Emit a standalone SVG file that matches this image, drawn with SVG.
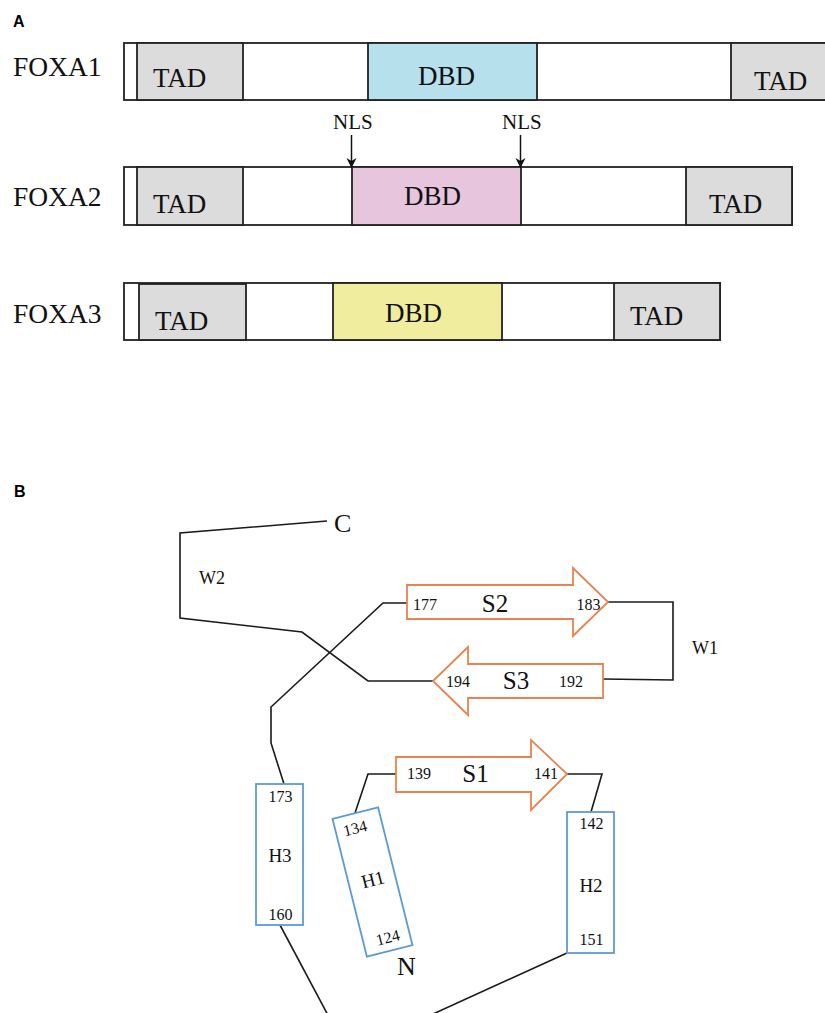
<svg xmlns="http://www.w3.org/2000/svg" width="825" height="1013" viewBox="0 0 825 1013">
  <style>
    .panel { font-family: "Liberation Sans", Arial, sans-serif; font-weight: bold; font-size: 16px; fill: #000; }
    .serif { font-family: "Liberation Serif", "Times New Roman", serif; fill: #111; }
    .name { font-size: 27.5px; }
    .dom { font-size: 27px; }
    .nls { font-size: 21px; }
    .bar { fill: #fff; stroke: #222; stroke-width: 1.8; }
    .tad { fill: #dcdcdc; stroke: #222; stroke-width: 1.8; }
    .dbd1 { fill: #b6e0ec; stroke: #222; stroke-width: 1.8; }
    .dbd2 { fill: #e6c5dd; stroke: #222; stroke-width: 1.8; }
    .dbd3 { fill: #f1ed9f; stroke: #222; stroke-width: 1.8; }
    .strand { fill: #fff; stroke: #e8834e; stroke-width: 1.8; stroke-linejoin: miter; }
    .helix { fill: #fff; stroke: #5b9bd5; stroke-width: 1.8; }
    .wire { fill: none; stroke: #1a1a1a; stroke-width: 1.6; stroke-linejoin: miter; }
    .num { font-size: 16px; text-anchor: middle; }
    .sname { font-size: 25px; text-anchor: middle; }
    .hname { font-size: 19px; text-anchor: middle; }
    .wname { font-size: 18px; }
    .end { font-size: 26px; }
  </style>
  <defs>
    <marker id="tri" viewBox="0 0 10 10" refX="10" refY="5" markerWidth="10" markerHeight="11" markerUnits="userSpaceOnUse" orient="auto">
      <path d="M0,0 L10,5 L0,10 L3,5 Z" fill="#111"/>
    </marker>
  </defs>

  <!-- panel letters -->
  <text class="panel" x="13" y="27">A</text>
  <text class="panel" x="14" y="497">B</text>

  <!-- FOXA1 domain bar -->
  <g id="foxa1">
    <text class="serif name" x="13" y="76">FOXA1</text>
    <rect class="bar" x="124" y="43" width="720" height="57"/>
    <rect class="tad" x="137" y="43" width="106" height="57"/>
    <rect class="dbd1" x="368" y="43" width="169" height="57"/>
    <rect class="tad" x="731" y="43" width="113" height="57"/>
    <text class="serif dom" x="153" y="87">TAD</text>
    <text class="serif dom" x="418" y="85">DBD</text>
    <text class="serif dom" x="754" y="90">TAD</text>
  </g>

  <!-- FOXA2 domain bar -->
  <g id="foxa2">
    <text class="serif name" x="13" y="206">FOXA2</text>
    <rect class="bar" x="124" y="167" width="668" height="58"/>
    <rect class="tad" x="137" y="167" width="106" height="58"/>
    <rect class="dbd2" x="352" y="167" width="169" height="58"/>
    <rect class="tad" x="686" y="167" width="106" height="58"/>
    <text class="serif dom" x="153" y="213">TAD</text>
    <text class="serif dom" x="404" y="205">DBD</text>
    <text class="serif dom" x="709" y="213">TAD</text>
  </g>

  <!-- FOXA3 domain bar -->
  <g id="foxa3">
    <text class="serif name" x="13" y="323">FOXA3</text>
    <rect class="bar" x="124" y="283" width="596" height="57"/>
    <rect class="tad" x="139" y="284" width="107" height="56"/>
    <rect class="dbd3" x="333" y="283" width="169" height="57"/>
    <rect class="tad" x="614" y="283" width="106" height="57"/>
    <text class="serif dom" x="155" y="330">TAD</text>
    <text class="serif dom" x="385" y="322">DBD</text>
    <text class="serif dom" x="630" y="325">TAD</text>
  </g>

  <!-- nuclear localisation signal markers -->
  <g id="nls-left">
    <text class="serif nls" x="333" y="129">NLS</text>
  </g>
  <g id="nls-right">
    <text class="serif nls" x="502" y="129">NLS</text>
  </g>
  <g id="nls-arrows">
    <line x1="351.5" y1="135" x2="351.5" y2="168" stroke="#111" stroke-width="1.5" marker-end="url(#tri)"/>
    <line x1="520.5" y1="135" x2="520.5" y2="168" stroke="#111" stroke-width="1.5" marker-end="url(#tri)"/>
  </g>

  <!-- forkhead domain topology: loops and wings -->
  <g id="connectors">
    <path class="wire" d="M327,521 L180,533 L180,618 L302,632 L368,681 L433,681"/>
    <path class="wire" d="M407,603 L383,603 L271,707 L271,743 L284,784"/>
    <path class="wire" d="M280,925 L330,1019"/>
    <path class="wire" d="M355,813 L368,774 L396,774"/>
    <path class="wire" d="M567,774 L602,774 L591,812"/>
    <path class="wire" d="M567,953 L422,1019"/>
    <path class="wire" d="M608,602 L673,602 L673,680 L603,679"/>
  </g>

  <g id="c-term">
    <text class="serif end" x="334" y="532">C</text>
  </g>
  <g id="w2">
    <text class="serif wname" x="199" y="584">W2</text>
  </g>
  <g id="w1">
    <text class="serif wname" x="692" y="654">W1</text>
  </g>

  <!-- beta strands -->
  <g id="s2">
    <polygon class="strand" points="407,585 573,585 573,568 608,602 573,636 573,619 407,619"/>
    <text class="serif num" x="425" y="610">177</text>
    <text class="serif sname" x="495" y="612">S2</text>
    <text class="serif num" x="588.5" y="610">183</text>
  </g>
  <g id="s3">
    <polygon class="strand" points="603,664 468,664 468,647 433,681 468,715 468,698 603,698"/>
    <text class="serif num" x="458" y="687">194</text>
    <text class="serif sname" x="516" y="689">S3</text>
    <text class="serif num" x="571" y="687">192</text>
  </g>
  <g id="s1">
    <polygon class="strand" points="396,757 531,757 531,740 567,774 531,810 531,792 396,792"/>
    <text class="serif num" x="419" y="779">139</text>
    <text class="serif sname" x="475.5" y="782">S1</text>
    <text class="serif num" x="546" y="779">141</text>
  </g>

  <!-- alpha helices -->
  <g id="h3">
    <rect class="helix" x="256" y="784" width="47" height="141"/>
    <text class="serif num" x="280.5" y="802">173</text>
    <text class="serif hname" x="280" y="862">H3</text>
    <text class="serif num" x="280.5" y="920">160</text>
  </g>
  <g id="h1" transform="translate(372.5 882) rotate(-14)">
    <rect class="helix" x="-23.5" y="-71" width="47" height="142"/>
    <text class="serif num" x="-4" y="-51">134</text>
    <text class="serif hname" x="1" y="4">H1</text>
    <text class="serif num" x="1.5" y="63">124</text>
  </g>
  <g id="h2">
    <rect class="helix" x="567" y="812" width="47" height="141"/>
    <text class="serif num" x="591.5" y="829">142</text>
    <text class="serif hname" x="591" y="892">H2</text>
    <text class="serif num" x="591.5" y="945">151</text>
  </g>

  <g id="n-term">
    <text class="serif end" x="397" y="975">N</text>
  </g>
</svg>
